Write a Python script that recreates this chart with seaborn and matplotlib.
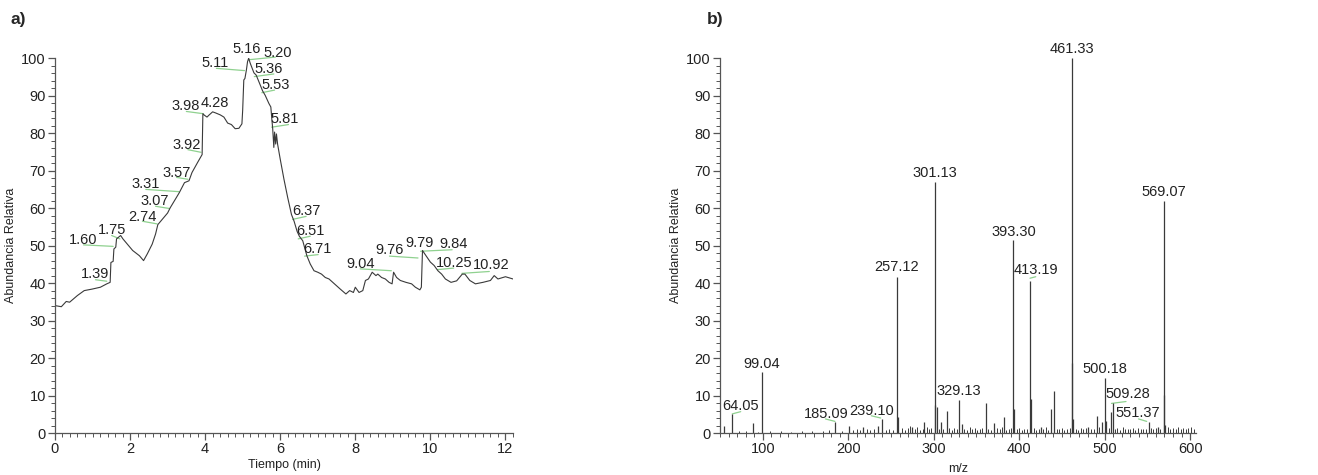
import numpy as np
import pandas as pd
import matplotlib
matplotlib.use("Agg")
import matplotlib.pyplot as plt
from matplotlib.ticker import MultipleLocator
import seaborn as sns

# ---- panel a: chromatogram (time in min, relative abundance) ----
tic_time = [0.0, 0.17, 0.30, 0.39, 0.60, 0.78, 0.99, 1.21, 1.38, 1.47, 1.49, 1.55, 1.57,
            1.62, 1.64, 1.75, 1.81, 2.07, 2.25, 2.36, 2.46, 2.59, 2.68, 2.74, 3.00, 3.07,
            3.31, 3.45, 3.57, 3.65, 3.80, 3.92, 3.94, 3.98, 4.05, 4.10, 4.20, 4.28, 4.40,
            4.50, 4.60, 4.70, 4.80, 4.90, 4.98, 5.00, 5.03, 5.06, 5.10, 5.13, 5.16, 5.20,
            5.30, 5.36, 5.45, 5.53, 5.60, 5.70, 5.75, 5.78, 5.80, 5.83, 5.85, 5.88, 5.90,
            5.93, 6.00, 6.10, 6.20, 6.30, 6.37, 6.45, 6.51, 6.60, 6.71, 6.80, 6.90, 7.00,
            7.10, 7.20, 7.30, 7.40, 7.50, 7.60, 7.75, 7.85, 7.95, 8.00, 8.10, 8.20, 8.27,
            8.35, 8.45, 8.55, 8.60, 8.70, 8.80, 8.90, 8.98, 9.02, 9.10, 9.20, 9.35, 9.50,
            9.60, 9.72, 9.76, 9.79, 9.85, 10.00, 10.10, 10.20, 10.30, 10.40, 10.55, 10.70,
            10.85, 10.92, 11.05, 11.20, 11.40, 11.60, 11.70, 11.80, 12.00, 12.20]
tic_abund = [34.0, 33.7, 35.1, 34.9, 36.7, 38.0, 38.4, 38.9, 39.8, 40.2, 45.5, 45.8, 49.1,
             49.6, 51.8, 52.7, 51.8, 48.7, 47.3, 46.0, 47.8, 50.4, 53.1, 55.6, 58.7, 60.1,
             64.1, 66.8, 67.3, 69.5, 72.2, 74.3, 85.2, 84.8, 84.3, 84.8, 85.7, 85.4, 84.9,
             84.3, 82.7, 82.3, 81.2, 81.3, 82.5, 86.1, 94.2, 94.6, 96.9, 99.1, 100.0, 98.7,
             96.1, 95.5, 93.3, 91.3, 90.1, 87.9, 87.0, 83.4, 81.2, 76.2, 80.3, 77.1, 79.8,
             77.1, 73.1, 67.7, 62.8, 58.3, 56.5, 53.8, 52.5, 51.3, 47.3, 45.1, 43.3, 42.9,
             42.4, 41.5, 41.1, 40.2, 39.3, 38.4, 37.1, 38.0, 37.5, 38.9, 37.5, 38.0, 40.7,
             41.1, 42.9, 42.0, 42.4, 41.5, 41.1, 40.2, 39.8, 42.9, 41.5, 40.7, 40.2, 39.8,
             38.9, 38.2, 38.9, 48.7, 47.8, 45.6, 44.7, 43.3, 42.4, 41.1, 40.2, 40.6,
             42.4, 42.4, 40.7, 39.8, 40.2, 40.7, 42.0, 41.1, 41.7, 41.1]

# peak labels: text, text centre, leader line start/end
a_labels = ["5.16", "5.20", "5.11", "5.36", "5.53", "3.98", "4.28", "5.81", "3.92", "3.57",
            "3.31", "3.07", "2.74", "6.37", "6.51", "1.75", "1.60", "6.71", "1.39", "9.04",
            "9.76", "9.79", "9.84", "10.25", "10.92"]
a_text_x = [5.11, 5.92, 4.27, 5.70, 5.87, 3.48, 4.25, 6.13, 3.52, 3.24, 2.42, 2.65, 2.33,
            6.69, 6.80, 1.51, 0.76, 7.00, 1.08, 8.13, 8.91, 9.72, 10.62, 10.64, 11.61]
a_text_y = [102.4, 101.5, 98.7, 97.0, 92.8, 87.2, 88.1, 83.9, 76.9, 69.5, 66.5, 61.9, 57.6,
            59.2, 53.8, 54.3, 51.6, 49.1, 42.4, 45.1, 48.7, 50.6, 50.3, 45.4, 44.7]
a_line_x0 = [None, 5.16, 4.30, 5.31, 5.51, 3.50, None, 5.77, 3.54, 3.24, 2.42, 2.68, 2.33,
             6.33, 6.48, 1.51, 0.76, 6.65, 1.08, 8.13, 8.91, None, 9.74, 10.19, 10.84]
a_line_x1 = [None, 5.87, 5.05, 5.83, 5.85, 3.95, None, 6.22, 3.89, 3.54, 3.30, 3.05, 2.72,
             6.69, 6.80, 1.73, 1.55, 7.01, 1.38, 8.96, 9.67, None, 10.58, 10.62, 11.57]
a_line_y0 = [None, 99.6, 97.3, 95.1, 90.8, 85.8, None, 81.6, 75.6, 68.2, 65.0, 60.5, 56.5,
             57.0, 51.8, 52.7, 50.2, 47.2, 40.9, 43.8, 47.2, None, 48.5, 43.6, 42.6]
a_line_y1 = [None, 100.3, 96.7, 95.8, 91.5, 85.2, None, 82.3, 74.9, 67.7, 64.4, 59.9, 55.8,
             57.8, 52.5, 51.8, 49.8, 47.6, 40.5, 43.3, 46.7, None, 48.9, 44.0, 43.1]

# ---- panel b: mass spectrum ----
ms_mz = [55, 64.05, 89, 99.04, 185.09, 201, 217, 235, 239.10, 257.12, 258, 275, 289,
         301.13, 302.1, 304, 308, 315, 329.13, 333, 361, 371, 382, 393.30, 394, 413.19,
         414, 425, 437.5, 441, 461.33, 462, 463, 481, 490.5, 497, 500.18, 502, 507,
         509.28, 551.37, 562, 569.07, 570, 571]
ms_int = [2.0, 5.1, 2.6, 16.2, 3.0, 2.0, 1.7, 2.0, 3.8, 41.5, 4.2, 1.5, 3.0,
          67.1, 7.6, 6.9, 2.9, 6.0, 8.9, 2.4, 8.0, 2.6, 4.2, 51.5, 6.3, 40.5,
          9.1, 1.5, 6.4, 11.1, 100.0, 18.8, 3.8, 1.5, 4.5, 2.9, 14.6, 3.3, 5.5,
          7.9, 3.0, 1.5, 62.0, 10.2, 2.2]

# small baseline peaks (read by eye, approximate)
noise_mz = [72, 80, 94, 108, 121, 133, 146, 158, 170, 178, 193, 205, 210, 214, 222, 226,
            230, 244, 248, 252, 263, 266, 270, 272, 278, 281, 284, 287, 292, 295, 297,
            306, 311, 318, 321, 324, 327, 336, 339, 342, 345, 348, 351, 354, 357, 364,
            367, 374, 377, 380, 385, 388, 391, 397, 400, 403, 406, 409, 417, 420, 423,
            428, 431, 434, 444, 447, 450, 453, 456, 459, 466, 469, 472, 475, 478, 484,
            487, 493, 505, 512, 515, 518, 521, 524, 527, 530, 533, 536, 539, 542, 545,
            548, 554, 557, 560, 565, 574, 577, 580, 583, 586, 589, 592, 595, 598, 601, 604]
noise_int = [0.5, 0.6, 0.4, 0.6, 0.5, 0.4, 0.5, 0.6, 0.5, 0.7, 0.6, 0.9, 1.2, 0.7, 1.1, 0.8,
             1.0, 0.8, 1.2, 0.9, 1.4, 0.9, 1.3, 1.8, 1.1, 1.5, 0.9, 1.2, 1.6, 1.0, 1.3,
             1.2, 1.0, 1.4, 0.9, 1.3, 1.1, 1.2, 0.8, 1.5, 1.0, 1.3, 0.9, 1.1, 1.4, 1.2,
             0.9, 1.3, 1.0, 1.5, 0.9, 1.2, 1.4, 1.0, 1.3, 0.8, 1.2, 1.1, 1.4, 0.9, 1.2,
             1.0, 1.5, 0.9, 1.2, 1.0, 1.3, 0.9, 1.1, 1.4, 1.2, 0.9, 1.3, 1.0, 1.4, 1.1,
             1.2, 1.6, 1.3, 1.0, 1.4, 0.9, 1.5, 1.1, 1.2, 1.0, 1.4, 0.9, 1.3, 1.1, 1.2,
             1.0, 1.4, 1.1, 1.3, 1.2, 1.5, 1.1, 1.3, 1.0, 1.6, 1.2, 1.4, 1.0, 1.3, 1.5, 1.1]

b_labels = ["64.05", "99.04", "185.09", "239.10", "257.12", "301.13", "329.13", "393.30",
            "413.19", "461.33", "500.18", "509.28", "551.37", "569.07"]
b_text_x = [74.2, 99.2, 174.2, 227.8, 256.7, 301.1, 329.1, 393.3, 420.2, 461.3, 500.2,
            526.6, 538.5, 569.1]
b_text_y = [7.3, 18.5, 5.1, 6.0, 44.4, 69.5, 11.3, 53.7, 43.5, 102.5, 17.1, 10.3, 5.3, 64.3]
b_line_x0 = [64.3, None, 173.4, 227.0, None, None, None, None, 412.7, None, None, 508.0, 539.7, None]
b_line_x1 = [74.2, None, 184.5, 238.0, None, None, None, None, 419.4, None, None, 525.0, 549.2, None]
b_line_y0 = [5.1, None, 3.75, 4.6, None, None, None, None, 41.3, None, None, 7.9, 3.75, None]
b_line_y1 = [5.7, None, 3.1, 4.0, None, None, None, None, 41.7, None, None, 8.4, 3.1, None]

sns.set_style("ticks")
plt.rcParams["font.family"] = ["Liberation Sans", "DejaVu Sans"]

AX_COL = "#555555"
LINE_COL = "#3a3a3a"
GREEN = "#8fd18f"
TXT = "#222222"

fig = plt.figure(figsize=(13.18, 4.75), dpi=100)
ax_a = fig.add_axes([0.0417, 0.0884, 0.3475, 0.789])
ax_b = fig.add_axes([0.5463, 0.0884, 0.3612, 0.789])


def style_axis(ax):
    sns.despine(ax=ax)
    for side in ("left", "bottom"):
        ax.spines[side].set_color(AX_COL)
        ax.spines[side].set_linewidth(0.9)
    ax.tick_params(which="major", direction="out", length=5, width=0.9,
                   color=AX_COL, labelsize=10.5, pad=1.5, labelcolor=TXT)
    ax.tick_params(which="minor", direction="out", length=3, width=0.7, color=AX_COL)
    ax.yaxis.set_major_locator(MultipleLocator(10))
    ax.yaxis.set_minor_locator(MultipleLocator(2))
    ax.set_ylim(0, 100)


def add_labels(ax, labels, tx, ty, x0, x1, y0, y1):
    for i, lab in enumerate(labels):
        if x0[i] is not None:
            ax.plot([x0[i], x1[i]], [y0[i], y1[i]], color=GREEN, lw=0.9,
                    clip_on=False, zorder=1)
        ax.text(tx[i], ty[i], lab, ha="center", va="center", fontsize=10.5,
                color=TXT, clip_on=False, zorder=3)


# panel a
df_a = pd.DataFrame({"t": tic_time, "ab": tic_abund})
sns.lineplot(data=df_a, x="t", y="ab", ax=ax_a, color=LINE_COL, lw=0.8,
             estimator=None, sort=False)
style_axis(ax_a)
ax_a.set_xlim(0, 12.2)
ax_a.xaxis.set_major_locator(MultipleLocator(2))
ax_a.xaxis.set_minor_locator(MultipleLocator(0.2))
ax_a.set_xlabel("Tiempo (min)", fontsize=9, labelpad=2, color=TXT)
ax_a.set_ylabel("Abundancia Relativa", fontsize=9, labelpad=3, color=TXT)
add_labels(ax_a, a_labels, a_text_x, a_text_y, a_line_x0, a_line_x1, a_line_y0, a_line_y1)

# panel b
ax_b.vlines(noise_mz, 0, noise_int, color=LINE_COL, lw=0.7)
ax_b.vlines(ms_mz, 0, ms_int, color=LINE_COL, lw=0.9)
style_axis(ax_b)
ax_b.set_xlim(50, 607)
ax_b.xaxis.set_major_locator(MultipleLocator(100))
ax_b.xaxis.set_minor_locator(MultipleLocator(10))
ax_b.set_xlabel("m/z", fontsize=9, labelpad=5, color=TXT)
ax_b.set_ylabel("Abundancia Relativa", fontsize=9, labelpad=3, color=TXT)
add_labels(ax_b, b_labels, b_text_x, b_text_y, b_line_x0, b_line_x1, b_line_y0, b_line_y1)

fig.text(0.008, 0.958, "a)", fontsize=12.5, fontweight="bold", va="center")
fig.text(0.536, 0.958, "b)", fontsize=12.5, fontweight="bold", va="center")

fig.savefig("out.png", dpi=100)
